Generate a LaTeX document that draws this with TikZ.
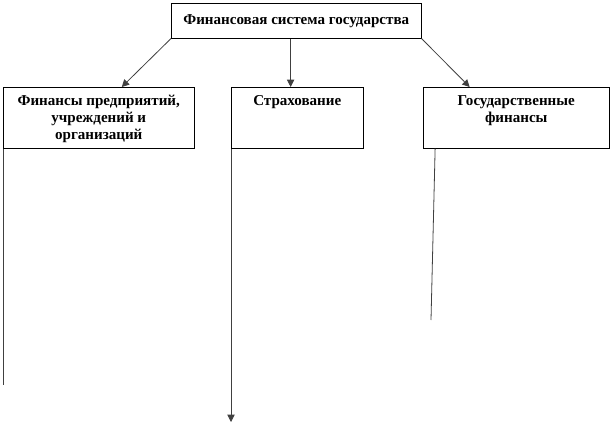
\documentclass[tikz,border=0pt]{standalone}
\usepackage{fontspec}
\setmainfont{Liberation Serif}
\usetikzlibrary{calc,arrows.meta}

\tikzset{
  box/.style={draw, thin, anchor=north west, inner sep=0pt,
    font=\bfseries\fontsize{11.3}{12.75}\selectfont},
  conn/.style={line width=0.6pt, draw=black!75},
  arr/.style={conn, -{Triangle[length=5.5pt,width=5.5pt]}}
}
% text of a box, set from the top
\newcommand{\boxtext}[3]{\parbox[t][#2][t]{#1}{\centering\rule{0pt}{14pt}#3}}

\begin{document}
\begin{tikzpicture}[x=0.75pt, y=-0.75pt]
  \useasboundingbox (0,0) rectangle (613,424);

  % top box
  \node[box, minimum width=187.5pt, minimum height=26.25pt] (fs) at (171,3)
    {Финансовая система государства};

  % second row
  \node[box] (fp) at (3,87)
    {\boxtext{143.25pt}{45.75pt}{Финансы предприятий,\\ учреждений и\\ организаций}};
  \node[box] (str) at (231,87)
    {\boxtext{99pt}{45.75pt}{Страхование}};
  \node[box] (gf) at (423,87)
    {\boxtext{139.5pt}{45.75pt}{Государственные\\ финансы}};

  % arrows from the top box
  \coordinate (fpin) at ($(fp.north west)!0.62!(fp.north east)$);
  \coordinate (strin) at ($(str.north west)!0.45!(str.north east)$);
  \coordinate (gfin) at ($(gf.north west)!0.25!(gf.north east)$);
  \draw[arr] (fs.south west) -- (fpin);
  \draw[arr] (fs.south -| strin) -- (strin);
  \draw[arr] (fs.south east) -- (gfin);

  % lines going down
  \coordinate (fpend) at (3,385);
  \coordinate (strend) at (231,422);
  \coordinate (gfout) at ($(gf.south west)!0.065!(gf.south east)$);
  \coordinate (gfend) at (431,320);
  \draw[conn] (fp.south west) -- (fpend);
  \draw[arr] (str.south west) -- (strend);
  \draw[conn] (gfout) -- (gfend);
\end{tikzpicture}
\end{document}
